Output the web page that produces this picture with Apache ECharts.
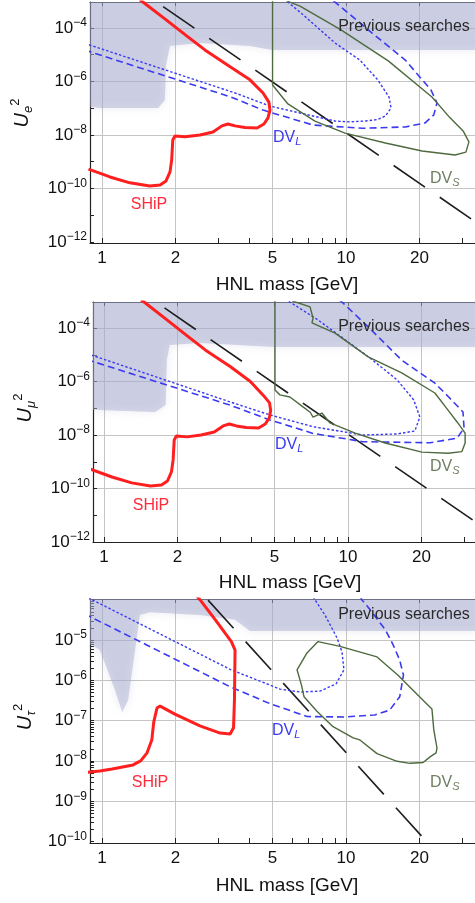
<!DOCTYPE html>
<html><head><meta charset="utf-8">
<script src="https://cdn.jsdelivr.net/npm/echarts@6/dist/echarts.min.js"></script>
<style>html,body{margin:0;padding:0;background:#fff}#c{width:475px;height:903px}</style>
</head><body><div id="c"></div>
<script>
// ===== DATA: points are [HNL mass in GeV, log10(U^2)] =====
const xLabelMasses = [1, 2, 5, 10, 20];
const xTickMasses = [1, 2, 3, 4, 5, 6, 7, 8, 9, 10, 20, 30];
const yLabelExpEMu = [-12, -10, -8, -6, -4];
const yTickExpEMu = [-12, -11, -10, -9, -8, -7, -6, -5, -4];
const yGridExpEMu = [-10, -8, -6, -4];
const yLabelExpTau = [-10, -9, -8, -7, -6, -5];
const yGridExpTau = [-9, -8, -7, -6, -5];

// --- electron panel ---
const shipE = [[0.88,-9.28],[1.078,-9.57],[1.30,-9.79],[1.57,-9.91],[1.73,-9.87],[1.83,-9.72],[1.90,-9.38],[1.93,-8.93],[1.95,-8.19],[1.99,-8.04],[2.19,-8.07],[2.52,-8.0],[2.85,-7.89],[3.10,-7.66],[3.28,-7.59],[3.51,-7.66],[3.85,-7.72],[4.32,-7.74],[4.61,-7.59],[4.79,-7.36],[4.88,-7.07],[4.83,-6.77],[4.57,-6.43],[4.04,-5.94],[3.35,-5.45],[2.64,-4.82],[2.25,-4.33],[1.81,-3.66],[1.47,-3.03],[1.43,-2.95]];
const dvlDotE = [[0.85,-4.57],[0.893,-4.64],[3.51,-6.43],[4.88,-6.92],[6.48,-7.18],[9.02,-7.48],[10.4,-7.51],[12.3,-7.47],[13.5,-7.42],[14.5,-7.29],[15.3,-6.99],[15.0,-6.58],[13.5,-5.94],[11.4,-5.20],[9.02,-4.56],[6.54,-3.44],[5.78,-3.03],[5.6,-2.95]];
const dvlDashE = [[0.85,-4.82],[0.893,-4.89],[3.35,-6.57],[4.57,-7.07],[7.33,-7.63],[11.7,-7.75],[17.5,-7.70],[21.1,-7.55],[22.9,-7.25],[23.6,-6.80],[22.3,-6.32],[17.5,-5.20],[12.8,-4.19],[9.02,-3.03],[8.8,-2.95]];
const dvsE = [[5.7,-2.98],[6.48,-3.18],[9.54,-4.07],[14.9,-5.23],[22.5,-6.58],[26.7,-7.36],[30.2,-7.85],[31.9,-8.26],[31.0,-8.64],[28.0,-8.75],[20.5,-8.60],[14.5,-8.30],[9.91,-7.93],[7.46,-7.48],[5.78,-6.84],[5.0,-6.13],[5.0,-2.98]];
const tauLineE = [[1.78,-3.20],[40,-11.70]];
const prevE = [[0.8,-2.5],[45,-2.5],[45,-4.82],[5.0,-4.82],[4.04,-4.67],[2.52,-4.56],[1.90,-4.67],[1.83,-5.38],[1.81,-6.69],[1.70,-6.99],[0.98,-6.99],[0.8,-6.9]];

// --- muon panel ---
const shipMu = [[0.88,-9.28],[1.078,-9.57],[1.30,-9.79],[1.55,-9.91],[1.72,-9.87],[1.82,-9.72],[1.89,-9.38],[1.92,-8.93],[1.94,-8.19],[1.98,-8.04],[2.19,-8.07],[2.50,-8.0],[2.83,-7.89],[3.08,-7.66],[3.26,-7.59],[3.49,-7.66],[3.83,-7.72],[4.30,-7.74],[4.58,-7.59],[4.76,-7.36],[4.82,-7.07],[4.77,-6.80],[4.50,-6.52],[3.98,-6.0],[3.30,-5.45],[2.60,-4.82],[2.22,-4.33],[1.79,-3.66],[1.46,-3.03],[1.42,-2.95]];
const dvlDotMu = [[0.85,-4.97],[0.90,-5.03],[3.28,-6.76],[4.79,-7.25],[7.19,-7.69],[11.5,-8.0],[15.9,-7.96],[18.8,-7.85],[19.7,-7.33],[18.6,-6.69],[15.9,-5.94],[12.3,-5.12],[7.54,-3.70],[5.78,-3.03],[5.6,-2.95]];
const dvlDashMu = [[0.85,-5.19],[0.90,-5.25],[3.28,-6.88],[4.79,-7.44],[7.19,-7.94],[11.5,-8.25],[21.7,-8.29],[28.0,-8.12],[29.9,-7.74],[29.6,-7.14],[25.8,-6.57],[22.7,-6.06],[16.6,-5.20],[12.1,-3.96],[9.45,-3.03],[9.2,-2.95]];
const dvsMu = [[5.9,-2.98],[6.99,-3.21],[7.19,-3.63],[7.12,-3.81],[8.85,-4.19],[12.1,-5.08],[16.6,-5.68],[22.7,-6.43],[25.7,-7.07],[28.2,-7.55],[30.2,-7.93],[30.2,-8.30],[29.3,-8.62],[25.7,-8.68],[20.1,-8.64],[14.2,-8.30],[10.7,-7.93],[8.44,-7.55],[7.82,-7.18],[7.19,-7.33],[7.0,-7.15],[6.54,-6.95],[5.78,-6.58],[5.26,-6.50],[5.02,-6.32],[5.02,-2.98]];
const tauLineMu = [[1.77,-3.25],[40,-11.75]];
const prevMu = [[0.8,-2.5],[45,-2.5],[45,-4.71],[5.0,-4.71],[2.47,-4.56],[1.86,-4.64],[1.81,-5.2],[1.79,-6.88],[1.62,-7.14],[0.96,-7.07],[0.8,-7.0]];

// --- tau panel ---
const shipTau = [[0.85,-8.29],[0.98,-8.25],[1.10,-8.20],[1.34,-8.10],[1.44,-8.0],[1.53,-7.80],[1.60,-7.48],[1.63,-7.03],[1.68,-6.69],[1.73,-6.64],[1.99,-6.84],[2.52,-7.13],[3.05,-7.31],[3.35,-7.33],[3.46,-7.18],[3.49,-6.49],[3.51,-5.25],[3.39,-5.04],[2.93,-4.52],[2.52,-4.0],[2.40,-3.85]];
const dvlDotTau = [[0.88,-3.95],[0.91,-4.0],[3.38,-5.74],[4.44,-6.02],[5.37,-6.22],[6.48,-6.29],[7.82,-6.27],[9.10,-6.09],[9.81,-5.74],[9.63,-5.30],[9.19,-4.95],[8.20,-4.38],[7.46,-4.0],[7.3,-3.9]];
const dvlDashTau = [[0.85,-4.36],[0.893,-4.42],[3.35,-6.16],[4.79,-6.56],[6.92,-6.90],[9.91,-6.91],[13.1,-6.86],[15.1,-6.74],[16.6,-6.41],[17.2,-5.87],[16.6,-5.50],[15.6,-5.12],[14.5,-4.75],[12.3,-4.18],[11.6,-4.0],[11.4,-3.9]];
const dvsTau = [[7.68,-5.04],[9.45,-5.16],[13.4,-5.42],[16.3,-5.87],[19.5,-6.34],[22.5,-6.71],[22.9,-7.23],[23.6,-7.68],[23.4,-7.80],[22.1,-7.90],[20.7,-8.04],[18.3,-8.06],[16.2,-8.01],[13.4,-7.82],[11.4,-7.48],[10.7,-7.43],[8.85,-7.15],[7.60,-6.77],[6.73,-6.41],[6.57,-6.12],[6.30,-5.74],[6.92,-5.32],[7.68,-5.04]];
const tauLineTau = [[2.72,-4.01],[40,-11.82]];
const prevTau = [[0.8,-3.5],[45,-3.5],[45,-4.78],[4.04,-4.78],[3.51,-4.50],[2.52,-4.38],[1.57,-4.31],[1.43,-4.38],[1.28,-6.49],[1.21,-6.79],[1.13,-6.24],[0.98,-5.25],[0.91,-5.12],[0.8,-5.1]];

// ===== CHART =====
const FONT = 'Liberation Sans, Arial, Helvetica, sans-serif';
const lg = Math.log10;
const toXY = arr => arr.map(p => [lg(p[0]), p[1]]);

const panels = [
  { grid: {left: 90, top: 2, width: 385, height: 241}, x: [-0.0492, 1.5287], y: [-12.04, -3.028],
    yLab: yLabelExpEMu, yTick: yTickExpEMu, yGrid: yGridExpEMu,
    ship: shipE, dot: dvlDotE, dash: dvlDashE, dvs: dvsE, tl: tauLineE, prev: prevE },
  { grid: {left: 93, top: 302, width: 382, height: 240}, x: [-0.045, 1.5205], y: [-12.0, -3.028],
    yLab: yLabelExpEMu, yTick: yTickExpEMu, yGrid: yGridExpEMu,
    ship: shipMu, dot: dvlDotMu, dash: dvlDashMu, dvs: dvsMu, tl: tauLineMu, prev: prevMu },
  { grid: {left: 90, top: 599, width: 385, height: 244}, x: [-0.0492, 1.5287], y: [-10.037, -3.983],
    yLab: yLabelExpTau, yTick: null, yGrid: yGridExpTau,
    ship: shipTau, dot: dvlDotTau, dash: dvlDashTau, dvs: dvsTau, tl: tauLineTau, prev: prevTau }
];

// tau panel: decade + log minor ticks
const tauTicks = [];
for (let n = -10; n <= -4; n++) for (let k = 1; k <= 9; k++) tauTicks.push(n + lg(k));
panels[2].yTick = tauTicks;

const grids = [], xAxes = [], yAxes = [], series = [];
const AX = '#222';
panels.forEach((p, i) => {
  grids.push(Object.assign({containLabel: false}, p.grid));
  xAxes.push({
    type: 'value', gridIndex: i, position: 'bottom', min: p.x[0], max: p.x[1],
    axisLine: {show: true, onZero: false, lineStyle: {color: AX, width: 1.2}},
    axisTick: {show: true, inside: true, length: 5, customValues: xTickMasses.map(lg), lineStyle: {color: AX}},
    axisLabel: {customValues: xLabelMasses.map(lg), formatter: v => String(Math.round(Math.pow(10, v))),
      fontSize: 17, color: '#111', fontFamily: FONT, margin: 7},
    splitLine: {show: false}
  });
  xAxes.push({
    type: 'value', gridIndex: i, position: 'top', min: p.x[0], max: p.x[1],
    axisLine: {show: true, onZero: false, lineStyle: {color: AX, width: 1.2}},
    axisTick: {show: true, inside: true, length: 4, customValues: xLabelMasses.map(lg), lineStyle: {color: AX}},
    axisLabel: {show: false},
    splitLine: {show: true, lineStyle: {color: '#c4c4c4', width: 1}}
  });
  yAxes.push({
    type: 'value', gridIndex: i, position: 'left', min: p.y[0], max: p.y[1],
    axisLine: {show: true, onZero: false, lineStyle: {color: AX, width: 1.2}},
    axisTick: {show: true, inside: true, length: 4, customValues: p.yTick, lineStyle: {color: AX}},
    axisLabel: {customValues: p.yLab, margin: 3, color: '#111',
      formatter: v => '{b|10}{s|\u2212' + Math.round(-v) + '}',
      rich: {b: {fontSize: 17, lineHeight: 22, fontFamily: FONT, color: '#111'},
             s: {fontSize: 12, lineHeight: 12, verticalAlign: 'top', fontFamily: FONT, color: '#111'}}},
    splitLine: {show: false}
  });
  yAxes.push({
    type: 'value', gridIndex: i, position: 'right', min: p.y[0], max: p.y[1],
    axisLine: {show: false, onZero: false},
    axisTick: {show: false, customValues: p.yGrid},
    axisLabel: {show: false},
    splitLine: {show: true, lineStyle: {color: '#c4c4c4', width: 1}}
  });
  const xi = 2 * i, yi = 2 * i;
  const poly = p.prev;
  series.push({
    type: 'custom', xAxisIndex: xi, yAxisIndex: yi, clip: true, silent: true, z: 1,
    data: [[0, (p.y[0] + p.y[1]) / 2]],
    renderItem: (params, api) => ({
      type: 'polygon',
      shape: {points: poly.map(q => api.coord([lg(q[0]), q[1]]))},
      style: {fill: 'rgba(165,168,205,0.45)', shadowBlur: 8, shadowColor: 'rgba(165,168,205,0.5)'}
    })
  });
  const line = (data, color, width, type, z) => ({
    type: 'line', xAxisIndex: xi, yAxisIndex: yi, data: toXY(data), showSymbol: false, symbol: 'none',
    clip: true, silent: true, z: z || 3, animation: false,
    lineStyle: {color: color, width: width, type: type}
  });
  series.push(line(p.tl, '#1e1e1e', 1.6, [38, 18]));
  series.push(line(p.dot, '#3a3af2', 1.4, [2.5, 2]));
  series.push(line(p.dash, '#3a3af2', 1.6, [7, 4]));
  series.push(line(p.dvs, '#4e6a3e', 1.4, 'solid'));
  series.push(line(p.ship, '#ff1f1f', 3, 'solid', 5));
});

// ===== annotations =====
const txt = (x, y, text, opt) => Object.assign({
  type: 'text', x: x, y: y, z: 100, silent: true,
  style: Object.assign({text: text, fontFamily: FONT, fontSize: 15, fill: '#333',
    align: 'center', verticalAlign: 'middle', textAlign: 'center', textVerticalAlign: 'middle'}, opt || {})
});
const sub = (main, s, color) => ({
  text: '{a|' + main + '}{b|' + s + '}',
  rich: {a: {fontSize: 16, lineHeight: 18, fontFamily: FONT, fill: color, color: color},
         b: {fontSize: 11, lineHeight: 11, fontStyle: 'italic', verticalAlign: 'bottom', fontFamily: FONT, fill: color, color: color}}
});
const uTitle = (letter) => ({
  text: '{u|U}{e|' + letter + '}{t|2}',
  rich: {u: {fontSize: 20, lineHeight: 26, fontStyle: 'italic', fontFamily: FONT, fill: '#111', color: '#111'},
         e: {fontSize: 13, lineHeight: 13, fontStyle: 'italic', verticalAlign: 'bottom', fontFamily: FONT, fill: '#111', color: '#111'},
         t: {fontSize: 13, lineHeight: 13, verticalAlign: 'top', fontFamily: FONT, fill: '#111', color: '#111'}}
});
const graphics = [];
const labelPos = [
  {prev: [404, 27], ship: [149, 205], dvl: [273, 138], dvs: [430, 179], hnl: [287, 285], u: [22, 113], ul: 'e'},
  {prev: [404, 327], ship: [151, 506], dvl: [275, 445], dvs: [430, 467], hnl: [290, 583], u: [25, 408], ul: '\u03bc'},
  {prev: [404, 615], ship: [150, 783], dvl: [272, 731], dvs: [430, 783], hnl: [287, 886], u: [25, 717], ul: '\u03c4'}
];
labelPos.forEach(l => {
  graphics.push(txt(l.prev[0], l.prev[1], 'Previous searches', {fontSize: 16, fill: '#2a2a2a'}));
  graphics.push(txt(l.ship[0], l.ship[1], 'SHiP', {fontSize: 16, fill: '#ff2a3a'}));
  graphics.push(txt(l.dvl[0], l.dvl[1], '', Object.assign(sub('DV', 'L', '#3a3af2'), {align: 'left', textAlign: 'left'})));
  graphics.push(txt(l.dvs[0], l.dvs[1], '', Object.assign(sub('DV', 'S', '#6f7f63'), {align: 'left', textAlign: 'left'})));
  graphics.push(txt(l.hnl[0], l.hnl[1], 'HNL mass [GeV]', {fontSize: 19, fill: '#111'}));
  graphics.push(Object.assign(txt(l.u[0], l.u[1], '', uTitle(l.ul)), {rotation: Math.PI / 2}));
});

const chart = echarts.init(document.getElementById('c'), null, {renderer: 'canvas'});
chart.setOption({
  animation: false,
  backgroundColor: '#ffffff',
  grid: grids, xAxis: xAxes, yAxis: yAxes, series: series,
  graphic: graphics
});
</script>
</body></html>
